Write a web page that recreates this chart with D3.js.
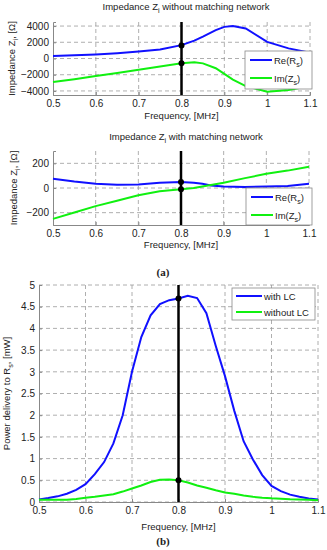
<!DOCTYPE html>
<html><head><meta charset="utf-8">
<script src="https://cdn.jsdelivr.net/npm/d3@7"></script>
<style>body{margin:0;background:#fff}svg{display:block}text{font-family:"Liberation Sans",Arial,sans-serif;fill:#222}</style>
</head><body>
<script>
// Panel 1: impedance without matching network
const f1 = [0.50,0.55,0.60,0.65,0.70,0.75,0.80,0.83,0.85,0.88,0.90,0.92,0.95,1.00,1.05,1.10];
const re1 = [300,400,500,650,850,1100,1650,2200,2700,3500,3900,4000,3700,2050,1250,700];
const im1 = [-2900,-2550,-2150,-1800,-1400,-1000,-600,-470,-600,-1200,-1900,-2600,-3400,-4100,-3870,-3400];
// Panel 2: impedance with matching network
const f2 = [0.50,0.55,0.60,0.65,0.70,0.75,0.80,0.83,0.85,0.87,0.90,0.95,1.00,1.05,1.10];
const re2 = [75,53,35,27,29,43,48,43,35,21,13,8,13,16,35];
const im2 = [-250,-198,-147,-103,-59,-27,-10,0,13,25,43,80,115,141,173];
// Panel 3: power delivery
const f3 = [0.50,0.52,0.54,0.56,0.58,0.60,0.62,0.64,0.66,0.68,0.70,0.72,0.74,0.76,0.78,0.80,0.82,0.84,0.86,0.88,0.90,0.92,0.94,0.96,0.98,1.00,1.02,1.04,1.06,1.08,1.10];
const withLC = [0.06,0.09,0.13,0.19,0.28,0.41,0.64,0.92,1.35,2.0,3.0,3.8,4.3,4.56,4.65,4.69,4.75,4.7,4.35,3.6,2.9,2.1,1.4,0.98,0.62,0.37,0.25,0.17,0.12,0.08,0.06];
const withoutLC = [0.05,0.05,0.05,0.05,0.07,0.10,0.12,0.15,0.18,0.24,0.31,0.38,0.46,0.51,0.52,0.50,0.45,0.38,0.33,0.27,0.22,0.19,0.15,0.12,0.10,0.085,0.075,0.065,0.06,0.05,0.04];
const xTicks = [0.5,0.6,0.7,0.8,0.9,1,1.1];
const yTicks1 = [-4000,-2000,0,2000,4000];
const yTicks2 = [-200,0,200];
const yTicks3 = [0,0.5,1,1.5,2,2.5,3,3.5,4,4.5,5];
const marker = 0.8;

const BLUE = "#1010ff", GREEN = "#10f010";
const svg = d3.select("body").append("svg").attr("width",327).attr("height",550);

function addSub(sel, parts, size){
  parts.forEach(p=>{
    const ts = sel.append("tspan").text(p[0]);
    if(p[1]) ts.attr("font-size", size*0.75).attr("baseline-shift", -size*0.3);
  });
}

function panel(o){
  const x = d3.scaleLinear().domain([0.5,1.1]).range([o.l,o.r]);
  const y = d3.scaleLinear().domain(o.yd).range([o.b,o.t]);
  const g = svg.append("g");
  g.selectAll(".gx").data(xTicks.filter(t=>t>0.5)).enter().append("line")
    .attr("x1",d=>x(d)).attr("x2",d=>x(d)).attr("y1",o.t).attr("y2",o.b)
    .attr("stroke","#9a9a9a").attr("stroke-width",0.8).attr("stroke-dasharray","4,3");
  g.selectAll(".gy").data(o.yt).enter().append("line")
    .attr("x1",o.l).attr("x2",o.r).attr("y1",d=>y(d)).attr("y2",d=>y(d))
    .attr("stroke","#9a9a9a").attr("stroke-width",0.8).attr("stroke-dasharray","4,3");
  const ax = g.append("g").attr("transform",`translate(0,${o.b})`)
    .call(d3.axisBottom(x).tickValues(xTicks).tickSize(-3).tickPadding(5).tickFormat(d3.format("")));
  const ay = g.append("g").attr("transform",`translate(${o.l},0)`)
    .call(d3.axisLeft(y).tickValues(o.yt).tickSize(-3).tickPadding(4).tickFormat(d3.format("")));
  [ax,ay].forEach(a=>{
    a.attr("font-size",10);
    a.select(".domain").attr("stroke","#888");
    a.selectAll(".tick line").attr("stroke","#888");
    a.selectAll("text").attr("font-size",10).attr("fill","#222");
  });
  const line = d3.line().x(d=>x(d[0])).y(d=>y(d[1]));
  o.series.forEach(s=>{
    g.append("path").datum(o.f.map((f,i)=>[f,s.v[i]])).attr("d",line)
      .attr("fill","none").attr("stroke",s.c).attr("stroke-width",2);
  });
  g.append("line").attr("x1",x(marker)).attr("x2",x(marker)).attr("y1",o.t).attr("y2",o.b)
    .attr("stroke","#000").attr("stroke-width",2.5);
  o.dots.forEach(v=>g.append("circle").attr("cx",x(marker)).attr("cy",y(v)).attr("r",3).attr("fill","#000"));
  if(o.title){
    const t = g.append("text").attr("x",o.titleX).attr("y",o.titleY).attr("text-anchor","middle").attr("font-size",9.5);
    addSub(t, o.title, 9.5);
  }
  g.append("text").attr("x",(o.l+o.r)/2).attr("y",o.xlY).attr("text-anchor","middle").attr("font-size",9.5).text("Frequency, [MHz]");
  const yl = g.append("text").attr("transform",`translate(${o.ylX},${(o.t+o.b)/2}) rotate(-90)`).attr("text-anchor","middle").attr("font-size",9.5);
  addSub(yl, o.ylab, 9.5);
  const L = o.leg;
  g.append("rect").attr("x",L.x).attr("y",L.y).attr("width",L.w).attr("height",L.h).attr("fill","#fff").attr("stroke","#888").attr("stroke-width",0.8);
  L.items.forEach((it,i)=>{
    const yy = L.y + L.r0 + i*L.dy;
    g.append("line").attr("x1",L.x+L.lx0).attr("x2",L.x+L.lx1).attr("y1",yy).attr("y2",yy).attr("stroke",it.c).attr("stroke-width",2);
    const t = g.append("text").attr("x",L.x+L.lx1+2).attr("y",yy+3.5).attr("font-size",9.5);
    addSub(t, it.t, 9.5);
  });
}

panel({l:53,r:310,t:22,b:95,yd:[-4500,4500],yt:yTicks1,f:f1,
  series:[{v:re1,c:BLUE},{v:im1,c:GREEN}], dots:[1600,-600],
  title:[["Impedance Z"],["i",1],[" without matching network"]], titleX:186, titleY:10,
  xlY:119, ylX:15, ylab:[["Impedance Z"],["i",1],[", [\u03a9]"]],
  leg:{x:245,y:51,w:67,h:38,r0:9,dy:18,lx0:5,lx1:27,items:[{c:BLUE,t:[["Re(R"],["s",1],[")"]]},{c:GREEN,t:[["Im(Z"],["s",1],[")"]]}]}
});
panel({l:53,r:309,t:151,b:225,yd:[-300,300],yt:yTicks2,f:f2,
  series:[{v:re2,c:BLUE},{v:im2,c:GREEN}], dots:[48,-10],
  title:[["Impedance Z"],["i",1],[" with matching network"]], titleX:186, titleY:140,
  xlY:248, ylX:17, ylab:[["Impedance Z"],["i",1],[", [\u03a9]"]],
  leg:{x:246,y:188,w:66,h:37,r0:9,dy:18,lx0:5,lx1:27,items:[{c:BLUE,t:[["Re(R"],["s",1],[")"]]},{c:GREEN,t:[["Im(Z"],["s",1],[")"]]}]}
});
panel({l:39,r:318,t:285,b:502,yd:[0,5],yt:yTicks3,f:f3,
  series:[{v:withLC,c:BLUE},{v:withoutLC,c:GREEN}], dots:[4.69,0.5],
  title:null, xlY:530, ylX:10, ylab:[["Power delivery to R"],["s",1],[", [mW]"]],
  leg:{x:232,y:288,w:83,h:32,r0:8,dy:16,lx0:4,lx1:30,items:[{c:BLUE,t:[["with LC"]]},{c:GREEN,t:[["without LC"]]}]}
});
svg.append("text").attr("x",163).attr("y",276).attr("text-anchor","middle").attr("font-weight","bold").attr("font-size",11).style("font-family","Liberation Serif").text("(a)");
svg.append("text").attr("x",163).attr("y",545).attr("text-anchor","middle").attr("font-weight","bold").attr("font-size",11).style("font-family","Liberation Serif").text("(b)");
</script>
</body></html>
